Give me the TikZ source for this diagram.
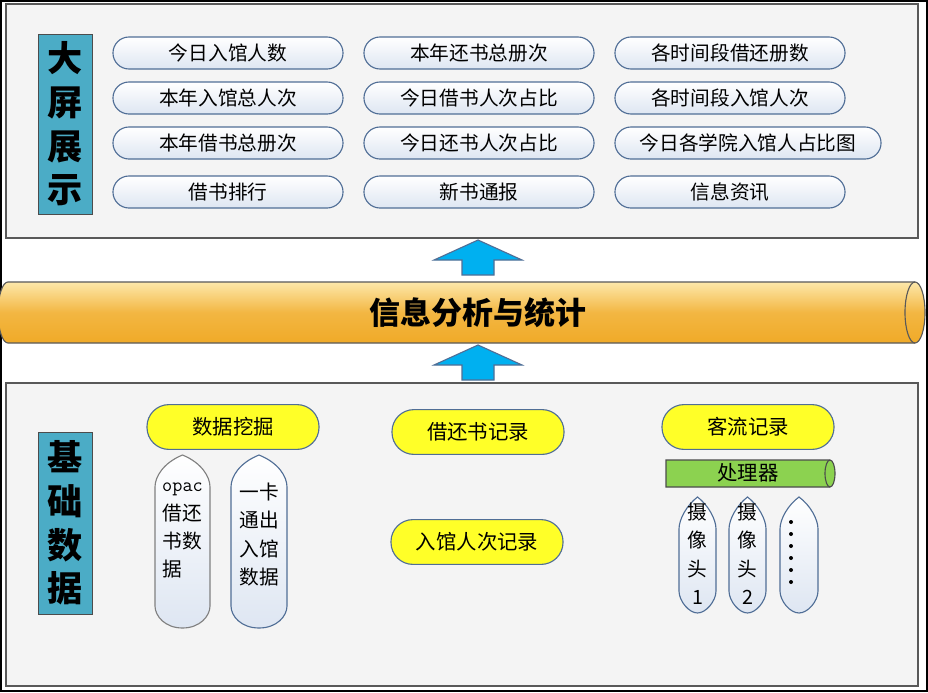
\documentclass[tikz,border=0pt]{standalone}
\usepackage{fontspec}
\setmainfont{Noto Sans CJK SC}
\usetikzlibrary{arrows.meta,positioning}
\definecolor{panelbg}{RGB}{244,244,244}
\definecolor{tealbox}{RGB}{75,172,198}
\definecolor{pillline}{RGB}{80,110,150}
\definecolor{pilltop}{RGB}{255,255,255}
\definecolor{pillbot}{RGB}{222,230,242}
\definecolor{yell}{RGB}{255,255,40}
\definecolor{arrowblue}{RGB}{0,176,240}
\definecolor{orngdark}{RGB}{240,170,40}
\definecolor{ornglight}{RGB}{253,232,170}
\definecolor{grn}{RGB}{140,210,80}

% capsule with pointed ends: x1, y1, x2, y2, text offset, text
\newcommand\bulletbox[7][pillline]{%
  \draw[#1, thick, top color=white, bottom color=pillbot]
    ({(#2+#4)/2},#3) .. controls ({#4-8},{#3+8}) and ({#4},{#3+22}) .. ({#4},{#3+32})
    -- ({#4},{#5-22}) .. controls ({#4},{#5-12}) and ({#4-10},{#5}) .. ({(#2+#4)/2},#5)
    .. controls ({#2+10},#5) and ({#2},{#5-12}) .. ({#2},{#5-22})
    -- ({#2},{#3+32}) .. controls ({#2},{#3+22}) and ({#2+8},{#3+8}) .. cycle;
  \node[font=\fontsize{14}{20}\selectfont, align=center, inner sep=0pt, anchor=north]
    at ({(#2+#4)/2},{#3+#6}) {#7};}

\begin{document}
\begin{tikzpicture}[x=0.025cm, y=-0.025cm,
    panel/.style={draw=gray!70!black, fill=panelbg, thick},
    bigtag/.style={draw=gray!60!black, fill=tealbox, minimum width=1.35cm, minimum height=4.5cm,
      font=\fontsize{25}{31}\selectfont\bfseries, align=center, inner sep=0pt},
    pill/.style={draw=pillline, thick, rounded corners=0.4cm, top color=pilltop, bottom color=pillbot,
      minimum width=5.75cm, minimum height=0.8cm, font=\fontsize{14}{17}\selectfont, inner sep=0pt},
    ypill/.style={draw=pillline, thick, rounded corners=0.55cm, fill=yell,
      minimum width=4.3cm, minimum height=1.12cm, font=\fontsize{14.5}{17}\selectfont, inner sep=0pt},
    uparrow/.style={draw=pillline, fill=arrowblue, thick},
  ]
  \useasboundingbox (0,0) rectangle (928,692);
  \fill[white] (0,0) rectangle (928,692);
  \draw[very thick] (1,1) rectangle (927,691);

  % top panel
  \draw[panel] (6,4) rectangle (918,238);
  \node[bigtag] (screen) at (65,124) {大\\屏\\展\\示};
  \node[pill] (p11) at (228,53) {今日入馆人数};
  \node[pill] (p12) at (228,98) {本年入馆总人次};
  \node[pill] (p13) at (228,143) {本年借书总册次};
  \node[pill] (p14) at (228,192) {借书排行};
  \node[pill] (p21) at (479,53) {本年还书总册次};
  \node[pill] (p22) at (479,98) {今日借书人次占比};
  \node[pill] (p23) at (479,143) {今日还书人次占比};
  \node[pill] (p24) at (479,192) {新书通报};
  \node[pill] (p31) at (730,53) {各时间段借还册数};
  \node[pill] (p32) at (730,98) {各时间段入馆人次};
  \node[pill, minimum width=6.65cm] (p33) at (748,143) {今日各学院入馆人占比图};
  \node[pill] (p34) at (730,192) {信息资讯};

  % arrows
  \draw[uparrow] (462,275) -- (462,260) -- (434,260) -- (478,240) -- (522,260) -- (494,260) -- (494,275) -- cycle;
  \draw[uparrow] (462,380) -- (462,365) -- (434,365) -- (478,345) -- (522,365) -- (494,365) -- (494,380) -- cycle;

  % middle cylinder
  \shade[top color=ornglight, bottom color=orngdark, middle color=orngdark!80!ornglight]
    (8,282) -- (915,282) arc[start angle=-90, end angle=90, x radius=10, y radius=30.5] -- (8,343)
    arc[start angle=90, end angle=270, x radius=10, y radius=30.5] -- cycle;
  \draw[gray!70!black, thick] (8,282) -- (915,282) arc[start angle=-90, end angle=90, x radius=10, y radius=30.5] -- (8,343)
    arc[start angle=90, end angle=270, x radius=10, y radius=30.5];
  \draw[gray!70!black, thick] (915,282) arc[start angle=-90, end angle=-270, x radius=10, y radius=30.5];
  \node[font=\fontsize{22}{26}\selectfont\bfseries] (stat) at (478,313) {信息分析与统计};

  % bottom panel
  \draw[panel] (6,383) rectangle (918,686);
  \node[bigtag, minimum height=4.55cm] (basic) at (65,523) {基\\础\\数\\据};
  \node[ypill] (mining) at (233,427) {数据挖掘};
  \node[ypill] (borrow) at (478,432) {借还书记录};
  \node[ypill] (entry) at (477,542) {入馆人次记录};
  \node[ypill] (flow) at (748,427) {客流记录};

  % processor cylinder
  \fill[grn] (666,460) -- (830,460) arc[start angle=-90, end angle=90, x radius=5, y radius=13.5] -- (666,487) -- cycle;
  \draw[gray!60!black, thick] (666,460) -- (830,460) arc[start angle=-90, end angle=90, x radius=5, y radius=13.5] -- (666,487) -- cycle;
  \draw[gray!60!black, thick] (830,460) arc[start angle=-90, end angle=-270, x radius=5, y radius=13.5];
  \node[font=\fontsize{14.5}{17}\selectfont] (cpu) at (748,473) {处理器};

  \bulletbox[gray]{155}{455}{210}{628}{28}{\texttt{opac}\\借还\\书数\\据\phantom{数}}
  \bulletbox{231}{455}{287}{628}{28}{一卡\\通出\\入馆\\数据}
  \bulletbox{679}{497}{716}{613}{6}{摄\\像\\头\\1}
  \bulletbox{729}{497}{766}{613}{6}{摄\\像\\头\\2}
  \bulletbox{780}{497}{818}{613}{0}{}
  \foreach \yy in {522,534,...,582}
    \fill (791,\yy) circle (2);
\end{tikzpicture}
\end{document}
